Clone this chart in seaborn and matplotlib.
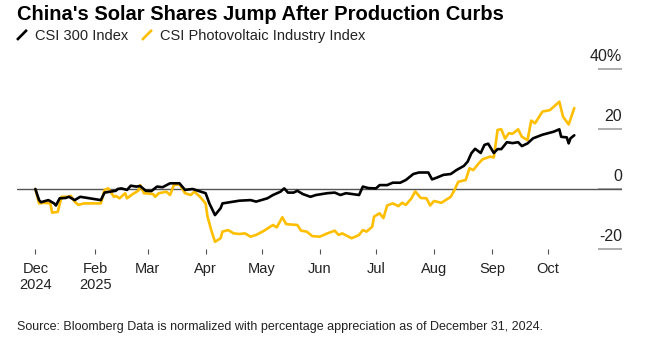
import numpy as np
import pandas as pd
import matplotlib
matplotlib.use("Agg")
import matplotlib.pyplot as plt
import matplotlib.transforms as mtransforms
from matplotlib.legend_handler import HandlerBase
from matplotlib.lines import Line2D
import seaborn as sns

# ---------------- data ----------------
title = "China's Solar Shares Jump After Production Curbs"
source = "Source: Bloomberg Data is normalized with percentage appreciation as of December 31, 2024."
base_date = "2024-12-31"

series_names = ["CSI 300 Index", "CSI Photovoltaic Industry Index"]
series_colors = ["#000000", "#FFBF00"]

# days since 2024-12-31 and % change
csi300_days = [0, 2, 3, 7, 10, 11, 13, 16, 18, 21, 24, 35, 37, 40, 43, 44, 46, 49, 51, 54,
               56, 59, 62, 65, 68, 72, 77, 80, 84, 87, 91, 93, 96, 99, 100, 106, 109, 115, 118, 124,
               127, 131, 133, 135, 138, 140, 143, 147, 150, 156, 160, 163, 166, 173, 175, 178, 182, 184, 188, 191,
               195, 198, 202, 205, 210, 212, 215, 218, 222, 225, 229, 231, 233, 235, 238, 240, 242, 245, 247, 249,
               252, 255, 258, 260, 263, 266, 271, 277, 280, 281, 284, 285, 286, 288]
csi300_vals = [0, -3.7, -4.4, -3.7, -4.8, -5.5, -3.1, -3.0, -2.6, -3.7, -2.6, -3.7, -1.2, -0.9, -0.6, 0.0, 0.2, -0.3, 1.1, 0.8,
               1.0, -0.6, -0.7, 0.8, 0.6, 1.9, 1.9, -0.3, 0.0, -0.6, -1.4, -4.8, -8.7, -6.4, -4.8, -4.2, -3.9, -3.7, -4.2, -3.1,
               -2.0, -0.9, 0.2, -1.2, -1.2, -0.6, -1.7, -2.6, -2.0, -1.4, -1.2, -2.0, -1.4, -2.0, 0.8, 0.3, 0.2, 1.3, 1.3, 2.1,
               2.1, 3.0, 5.0, 5.5, 5.5, 3.2, 3.9, 4.7, 5.0, 6.3, 7.7, 9.1, 11.9, 13.4, 12.0, 14.7, 15.1, 12.0, 13.3, 13.3,
               15.6, 15.3, 15.6, 14.3, 15.2, 16.9, 18.1, 19.1, 19.9, 17.4, 17.2, 15.2, 16.9, 17.9]

pv_days = [0, 2, 5, 8, 9, 12, 14, 17, 19, 21, 23, 26, 35, 37, 39, 42, 43, 45, 48, 49,
           52, 55, 56, 58, 63, 64, 66, 70, 72, 74, 77, 80, 83, 85, 88, 91, 92, 94, 96, 99,
           100, 103, 106, 109, 112, 115, 118, 122, 127, 129, 132, 134, 140, 142, 145, 148, 152, 156, 160, 162,
           164, 169, 171, 173, 175, 177, 180, 181, 184, 186, 188, 191, 194, 196, 198, 201, 203, 206, 209, 211,
           213, 217, 222, 224, 226, 230, 232, 234, 237, 239, 243, 245, 247, 249, 251, 253, 255, 258, 260, 263,
           265, 267, 271, 275, 280, 282, 285, 288]
pv_vals = [0, -4.8, -4.6, -4.8, -7.9, -7.6, -2.6, -2.6, -2.3, -4.2, -5.3, -4.8, -4.8, -0.3, 0.2, -2.6, -2.3, -3.1, -1.4, -3.1,
           -1.7, -0.6, 1.3, -1.4, -1.7, -2.6, -1.4, -0.9, -2.0, 1.3, 1.6, -1.4, -2.0, -0.9, -2.6, -4.8, -9.2, -13.7, -17.6, -16.4,
           -14.2, -13.7, -14.8, -15.0, -14.8, -15.9, -15.3, -14.0, -12.0, -12.8, -9.4, -11.7, -12.0, -13.9, -14.2, -15.7, -15.9, -14.8, -13.9, -15.3,
           -14.8, -16.4, -15.9, -15.3, -13.7, -14.2, -12.6, -9.2, -8.1, -9.7, -5.5, -4.8, -5.7, -4.6, -5.3, -3.1, -0.8, -3.0, -3.1, -5.5,
           -4.0, -4.6, -2.6, -0.3, 2.4, 3.0, 6.9, 6.3, 8.6, 9.9, 10.8, 10.5, 19.7, 19.9, 16.8, 18.6, 18.4, 19.9, 17.4, 16.3,
           22.8, 21.9, 25.8, 26.3, 29.1, 24.1, 21.5, 27.0]

xtick_dates = ["2024-12-31", "2025-02-01", "2025-03-01", "2025-04-01", "2025-05-01",
               "2025-06-01", "2025-07-01", "2025-08-01", "2025-09-01", "2025-10-01"]
xtick_labels = ["Dec\n2024", "Feb\n2025", "Mar", "Apr", "May", "Jun", "Jul", "Aug", "Sep", "Oct"]
ytick_values = [-20, 0, 20, 40]
ytick_labels = ["-20", "0", "20", "40%"]

# ---------------- styling ----------------
sns.set_theme(style="white")
plt.rcParams['font.family'] = ['Liberation Sans', 'DejaVu Sans']

base = pd.Timestamp(base_date)
df = pd.concat([
    pd.DataFrame({"date": base + pd.to_timedelta(csi300_days, unit="D"),
                  "value": csi300_vals, "series": series_names[0]}),
    pd.DataFrame({"date": base + pd.to_timedelta(pv_days, unit="D"),
                  "value": pv_vals, "series": series_names[1]}),
], ignore_index=True)

W, H = 651, 337
fig = plt.figure(figsize=(W / 100, H / 100), dpi=100)
ax = fig.add_axes([17 / W, 88 / H, 605 / W, 180 / H])

ax.axhline(0, color="#555555", lw=1.0, zorder=1)

palette = dict(zip(series_names, series_colors))
sns.lineplot(data=df, x="date", y="value", hue="series",
             hue_order=[series_names[1], series_names[0]],
             palette=palette, linewidth=1.9, estimator=None, sort=True,
             legend=False, ax=ax, zorder=3)
for ln in ax.get_lines()[1:]:
    ln.set_solid_joinstyle("round")

ax.set_xlim(base + pd.Timedelta(days=-9.8), base + pd.Timedelta(days=313.5))
ax.set_ylim(-20, 40)
for s in ax.spines.values():
    s.set_visible(False)
ax.set_xlabel("")
ax.set_ylabel("")

ax.set_xticks(pd.to_datetime(xtick_dates))
ax.set_xticklabels(xtick_labels)
ax.tick_params(axis="x", direction="out", length=3.8, width=0.8, color="#555555",
               pad=5.5, labelsize=10.5, labelcolor="#222222", bottom=True)

ax.yaxis.tick_right()
ax.set_yticks(ytick_values)
ax.set_yticklabels(ytick_labels)
ax.tick_params(axis="y", direction="in", length=17.3, width=1.1, color="#999999",
               pad=0, labelsize=11.5, labelcolor="#222222", right=True, left=False)
offset = mtransforms.ScaledTranslation(0, 6.1 / 72, fig.dpi_scale_trans)
for lab in ax.yaxis.get_majorticklabels():
    lab.set_horizontalalignment("right")
    lab.set_verticalalignment("baseline")
    lab.set_transform(lab.get_transform() + offset)


class SlashHandler(HandlerBase):
    def create_artists(self, legend, orig_handle, xdescent, ydescent, width, height, fontsize, trans):
        x0, y0 = -xdescent, -ydescent
        ln = Line2D([x0, x0 + width], [y0, y0 + height], color=orig_handle.get_color(),
                    lw=orig_handle.get_linewidth(), solid_capstyle="butt", transform=trans)
        return [ln]


handles = [Line2D([], [], color=c, lw=1.9) for c in series_colors]
fig.legend(handles, series_names, loc="upper left", bbox_to_anchor=(17 / W, 1 - 29 / H),
           ncol=2, frameon=False, fontsize=10.5, handler_map={Line2D: SlashHandler()},
           handlelength=0.68, handleheight=0.68, handletextpad=0.55, columnspacing=0.95,
           borderpad=0, borderaxespad=0, labelcolor="#222222")

fig.text(17 / W, 1 - 19.5 / H, title, fontsize=14.5, fontweight="bold", va="baseline",
         ha="left", color="#000000")
fig.text(17 / W, 1 - 330 / H, source, fontsize=9, va="baseline", ha="left", color="#222222")

fig.savefig("out.png", dpi=100)
